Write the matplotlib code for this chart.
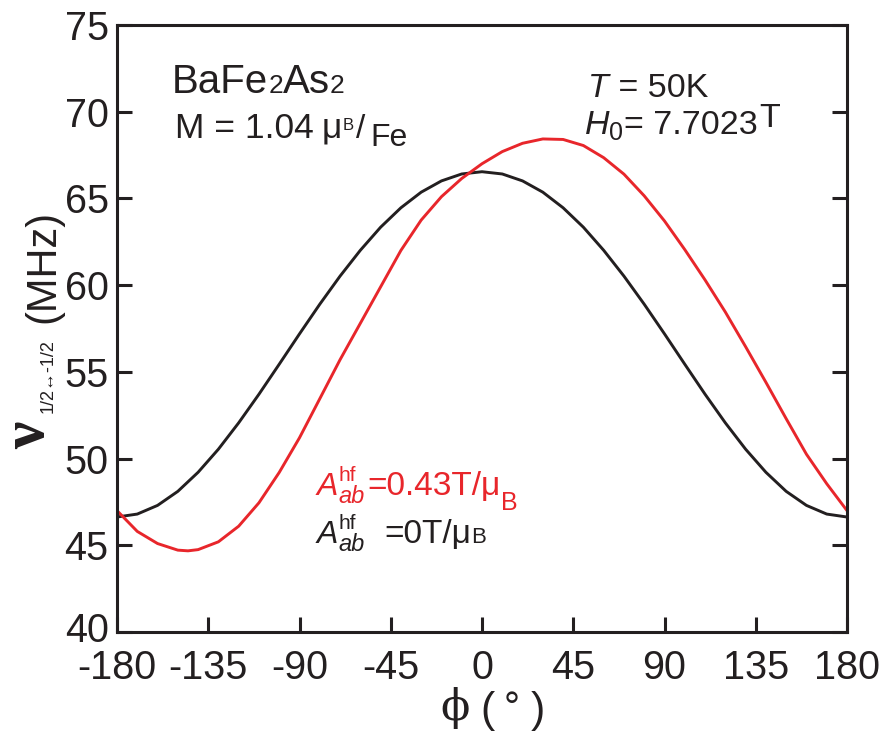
import matplotlib
matplotlib.use("Agg")
import matplotlib.pyplot as plt
from matplotlib.transforms import ScaledTranslation

# ---- data (phi in degrees, nu in MHz) ----
phi_black = [-180, -170, -160, -150, -140, -130, -120, -110, -100, -90, -80, -70, -60,
             -50, -40, -30, -20, -10, 0, 10, 20, 30, 40, 50, 60, 70, 80, 90, 100,
             110, 120, 130, 140, 150, 160, 170, 180]
nu_black = [46.63, 46.80, 47.30, 48.11, 49.21, 50.54, 52.06, 53.71, 55.44, 57.19, 58.90,
            60.52, 62.01, 63.34, 64.46, 65.36, 66.01, 66.41, 66.54, 66.41, 66.01, 65.36,
            64.46, 63.34, 62.01, 60.52, 58.90, 57.19, 55.44, 53.71, 52.06, 50.54, 49.21,
            48.11, 47.30, 46.80, 46.63]

phi_red = [-180, -170, -160, -150, -145, -140, -130, -120, -110, -100, -90, -80, -70, -60,
           -50, -40, -30, -20, -10, 0, 10, 20, 30, 40, 50, 60, 70, 80, 90, 100,
           110, 120, 130, 140, 150, 160, 170, 180]
nu_red = [47.00, 45.80, 45.10, 44.72, 44.68, 44.75, 45.20, 46.10, 47.45, 49.20, 51.20,
          53.45, 55.70, 57.80, 59.90, 62.00, 63.75, 65.10, 66.15, 67.00, 67.70, 68.18,
          68.43, 68.40, 68.05, 67.35, 66.40, 65.15, 63.70, 62.05, 60.30, 58.45, 56.45,
          54.40, 52.30, 50.25, 48.55, 47.00]

xticks = [-180, -135, -90, -45, 0, 45, 90, 135, 180]
yticks = [40, 45, 50, 55, 60, 65, 70, 75]

W, H = 885, 734
RED = "#e8262b"
BLK = "#231f20"
SANS = ["Liberation Sans", "DejaVu Sans"]

fig = plt.figure(figsize=(W / 100, H / 100), dpi=100)
ax = fig.add_axes([117 / W, 1 - 632 / H, (847 - 117) / W, (632 - 25) / H])

ax.plot(phi_black, nu_black, color=BLK, lw=2.1, solid_joinstyle="round")
ax.plot(phi_red, nu_red, color=RED, lw=2.1, solid_joinstyle="round")

ax.set_xlim(-180, 180)
ax.set_ylim(40, 75)
ax.set_xticks(xticks)
ax.set_yticks(yticks)
ax.set_xticklabels([str(t) for t in xticks], family=SANS)
ax.set_yticklabels([str(t) for t in yticks], family=SANS)
ax.tick_params(direction="in", length=11, width=2.2, labelsize=28.5, colors=BLK,
               top=False, right=True)
ax.tick_params(axis="x", pad=12)
ax.tick_params(axis="y", pad=6)
for s in ax.spines.values():
    s.set_linewidth(2.2)
    s.set_color(BLK)
# nudge the bottom y label ("40") up a little so it does not collide with "-180"
lab40 = ax.get_yticklabels()[0]
lab40.set_transform(lab40.get_transform() + ScaledTranslation(0, 5 / 100, fig.dpi_scale_trans))

renderer = fig.canvas.get_renderer()


def put(x, y, s, size, color=BLK, style="normal", family=SANS, **kw):
    return fig.text(x / W, 1 - y / H, s, fontsize=size, color=color, style=style,
                    family=family, ha="left", va="baseline", **kw)


def width(t):
    return t.get_window_extent(renderer=renderer).width


def chain(x, y, parts, color=BLK):
    """parts: dicts with s, size, dy, style, gap; or list of such dicts (stacked)."""
    for p in parts:
        group = p if isinstance(p, list) else [p]
        x += group[0].get("gap", 0)
        wmax = 0
        for q in group:
            t = put(x, y + q.get("dy", 0), q["s"], q["size"], color=color,
                    style=q.get("style", "normal"))
            wmax = max(wmax, width(t))
        x += wmax


# BaFe2As2
chain(172, 93, [dict(s="BaFe", size=29), dict(s="2", size=19),
                dict(s="As", size=29), dict(s="2", size=19)])
# M = 1.04 muB / Fe
chain(175, 138, [dict(s="M = 1.04", size=25.5), dict(s="\u03bc", size=25.5, gap=8),
                 dict(s="B", size=12, dy=-8), dict(s="/", size=24, gap=3),
                 dict(s="Fe", size=23, dy=8, gap=5)])
# T = 50K
chain(588, 97, [dict(s="T", size=24.5, style="italic"), dict(s=" = 50K", size=24.5)])
# H0 = 7.7023 T
chain(585, 134, [dict(s="H", size=24.5, style="italic"), dict(s="0", size=18, dy=6),
                 dict(s="= 7.7023", size=24.5), dict(s="T", size=24.5, dy=-7, gap=2)])
# red annotation
chain(317, 495, [dict(s="A", size=23, style="italic"),
                 [dict(s="hf", size=15, dy=-14), dict(s="ab", size=17, dy=8, style="italic")],
                 dict(s="=0.43T/\u03bc", size=24, gap=3),
                 dict(s="B", size=18, dy=15)], color=RED)
# black annotation
chain(317, 543, [dict(s="A", size=23, style="italic"),
                 [dict(s="hf", size=15, dy=-14), dict(s="ab", size=17, dy=8, style="italic")],
                 dict(s="=0T/\u03bc", size=24, gap=20),
                 dict(s="B", size=16)])

# y label pieces (rotated)
rot = dict(rotation=90, rotation_mode="anchor")
put(44, 449, "\u03bd", 44, family=["Liberation Serif", "DejaVu Serif"], weight="bold", **rot)
put(53, 413, "1/2\u2194-1/2", 13, **rot)
put(54, 323, "(MHz)", 30, **rot)

# x label pieces
put(440, 720, "\u03d5", 31, family=["DejaVu Serif"])
put(480, 722, "(", 31)
put(504, 720, "\u00b0", 29)
put(531, 722, ")", 31)

fig.savefig("out.png", dpi=100)
